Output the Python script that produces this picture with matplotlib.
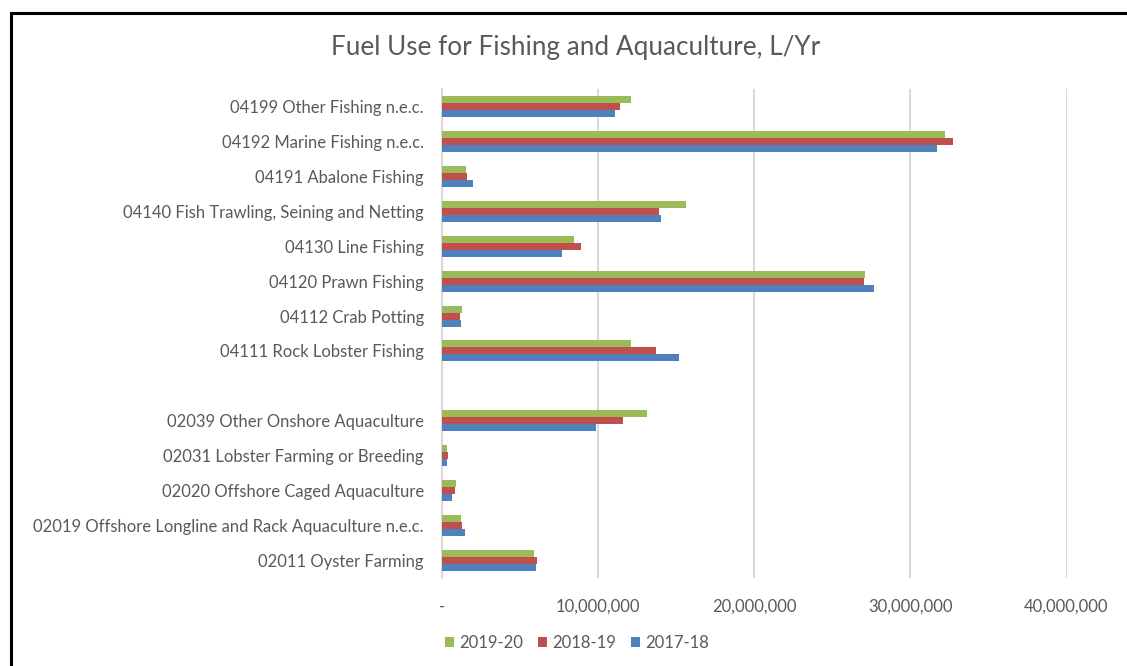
import numpy as np
import matplotlib.pyplot as plt
from matplotlib.patches import Rectangle
from matplotlib.ticker import FuncFormatter

# categories top to bottom; empty string is the spacer row between fishing and aquaculture
categories = [
    "04199 Other Fishing n.e.c.",
    "04192 Marine Fishing n.e.c.",
    "04191 Abalone Fishing",
    "04140 Fish Trawling, Seining and Netting",
    "04130 Line Fishing",
    "04120 Prawn Fishing",
    "04112 Crab Potting",
    "04111 Rock Lobster Fishing",
    "",
    "02039 Other Onshore Aquaculture",
    "02031 Lobster Farming or Breeding",
    "02020 Offshore Caged Aquaculture",
    "02019 Offshore Longline and Rack Aquaculture n.e.c.",
    "02011 Oyster Farming",
]

fy2019_20 = [12.1e6, 32.2e6, 1.55e6, 15.6e6, 8.45e6, 27.1e6, 1.28e6, 12.1e6, 0,
             13.1e6, 0.32e6, 0.90e6, 1.22e6, 5.92e6]
fy2018_19 = [11.4e6, 32.7e6, 1.60e6, 13.9e6, 8.90e6, 27.0e6, 1.15e6, 13.7e6, 0,
             11.6e6, 0.40e6, 0.83e6, 1.28e6, 6.10e6]
fy2017_18 = [11.1e6, 31.7e6, 2.00e6, 14.0e6, 7.70e6, 27.7e6, 1.22e6, 15.2e6, 0,
             9.85e6, 0.32e6, 0.64e6, 1.47e6, 6.03e6]

series = [("2019-20", fy2019_20, "#9BBB59"),
          ("2018-19", fy2018_19, "#C0504D"),
          ("2017-18", fy2017_18, "#4F81BD")]

plt.rcParams['font.family'] = ['Lato', 'DejaVu Sans']
grey = "#595959"

W, H = 1127, 666
fig = plt.figure(figsize=(W / 100, H / 100), dpi=100)
ax = fig.add_axes([442 / W, 1 - 578 / H, (1066.5 - 442) / W, (578 - 89) / H])

y = np.arange(len(categories))
h = 0.2
for i, (name, vals, col) in enumerate(series):
    ax.barh(y + (i - 1) * h, vals, height=h, color=col, label=name, zorder=3)

ax.set_xlim(0, 40e6)
ax.set_ylim(len(categories) - 0.5, -0.5)
ax.set_xticks(np.arange(0, 40e6 + 1, 10e6))
ax.xaxis.set_major_formatter(FuncFormatter(lambda v, p: "-" if v == 0 else f"{v:,.0f}"))
ax.set_yticks(y)
ax.set_yticklabels(categories)
ax.tick_params(axis='both', length=0, labelsize=12, labelcolor=grey)
ax.tick_params(axis='y', pad=13)
ax.tick_params(axis='x', pad=15)

ax.grid(axis='x', color="#d9d9d9", linewidth=1.5, zorder=0)
for s in ["top", "right", "bottom"]:
    ax.spines[s].set_visible(False)
ax.spines["left"].set_color("#d9d9d9")
ax.spines["left"].set_linewidth(1.5)

fig.text(576 / W, 1 - 47 / H, "Fuel Use for Fishing and Aquaculture, L/Yr",
         ha='center', va='center', fontsize=18.8, color=grey)

handles, labels = ax.get_legend_handles_labels()
fig.legend(handles, labels, loc='center', bbox_to_anchor=(577 / W, 1 - 643 / H),
           ncol=3, frameon=False, fontsize=12, labelcolor=grey,
           handlelength=0.55, handleheight=0.6, handletextpad=0.3, columnspacing=0.9)

# chart frame, running off the right and bottom edges
fig.patches.append(Rectangle((11 / W, -0.05), 1.1, 1 - 13 / H + 0.05,
                             transform=fig.transFigure, fill=False,
                             edgecolor="black", linewidth=2.2))

fig.savefig("out.png", dpi=100)
